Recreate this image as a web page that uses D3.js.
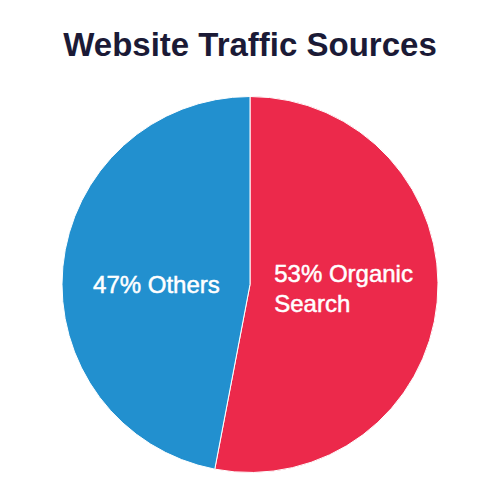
<!DOCTYPE html>
<html>
<head>
<meta charset="utf-8">
<script src="https://cdn.jsdelivr.net/npm/d3@7"></script>
<style>
  html, body { margin: 0; padding: 0; background: #fff; }
  svg { display: block; }
</style>
</head>
<body>
<svg id="chart" width="500" height="500"></svg>
<script>
// data
var categories = ['Organic Search', 'Others'];
var shares = [53, 47];
var labelLines = [['53% Organic', 'Search'], ['47% Others']];
var colors = ['#EC294B', '#2290CF'];

var width = 500, height = 500;
var cx = 250, cy = 284.5, radius = 188;

var svg = d3.select('#chart');

svg.append('text')
  .attr('x', width / 2)
  .attr('y', 56)
  .attr('text-anchor', 'middle')
  .style('font-family', 'Liberation Sans, Arial, sans-serif')
  .style('font-weight', 'bold')
  .style('font-size', '33px')
  .style('fill', '#1b1a36')
  .text('Website Traffic Sources');

var pie = d3.pie().sort(null).value(function(d){ return d; });
var arc = d3.arc().innerRadius(0).outerRadius(radius);

var arcs = pie(shares);

var g = svg.append('g').attr('transform', 'translate(' + cx + ',' + cy + ')');

g.selectAll('path')
  .data(arcs)
  .enter()
  .append('path')
  .attr('d', arc)
  .style('fill', function(d, i){ return colors[i]; })
  .style('stroke', '#fff')
  .style('stroke-width', 1);

// labels: left-aligned block, centered on the slice centroid horizontally
var lineH = 29.5;
var labels = g.selectAll('g.label')
  .data(arcs)
  .enter()
  .append('g')
  .attr('class', 'label');

labels.each(function(d, i){
  var c = arc.centroid(d);
  var lines = labelLines[i];
  var t = d3.select(this).append('text')
    .style('font-family', 'Liberation Sans, Arial, sans-serif')
    .style('font-size', '24px')
    .style('fill', '#fff')
    .style('stroke', '#fff')
    .style('stroke-width', 0.5);
  t.selectAll('tspan')
    .data(lines)
    .enter()
    .append('tspan')
    .attr('x', 0)
    .attr('y', function(l, j){ return j * lineH; })
    .text(function(l){ return l; });
  var bb = t.node().getBBox();
  var dx = c[0] - bb.width / 2;
  var dy = 8.5 - (lines.length - 1) * (lineH / 2 - 4);
  t.attr('transform', 'translate(' + dx + ',' + dy + ')');
});
</script>
</body>
</html>
